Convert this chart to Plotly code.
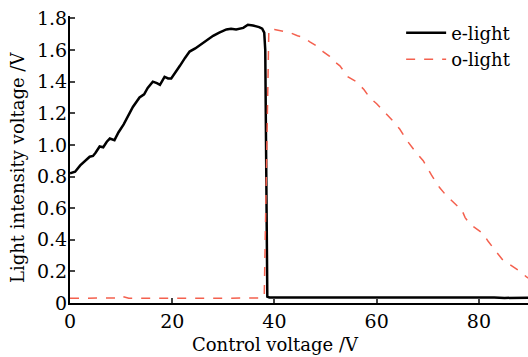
import plotly.graph_objects as go

# e-light (black solid)
e_x = [0, 1, 2, 3, 3.85, 4.5, 5, 5.8, 6.5, 7.2, 7.8, 8.7, 9.5, 10.5, 11.5, 12.3, 13.6, 14.5, 15.2,
       16.2, 17.0, 17.6, 18.5, 19.2, 19.8, 20.5, 21.5, 22.5, 23.4, 24.5, 25.4, 26.5, 28.0, 29.2,
       30.6, 31.5, 32.5, 33.9, 34.8, 35.8, 37.0, 37.6, 38.0, 38.2, 38.4, 38.6, 39,
       40, 42, 45, 48, 50, 53, 55, 58, 60, 63, 65, 68, 70, 73, 75, 78, 80, 83, 85, 88, 90]
e_y = [0.82, 0.83, 0.87, 0.90, 0.925, 0.93, 0.95, 0.99, 0.985, 1.02, 1.04, 1.03, 1.08, 1.13, 1.19,
       1.24, 1.30, 1.32, 1.36, 1.40, 1.39, 1.38, 1.43, 1.42, 1.42, 1.45, 1.50, 1.55, 1.59, 1.61,
       1.63, 1.66, 1.69, 1.71, 1.73, 1.735, 1.73, 1.74, 1.76, 1.755, 1.745, 1.735, 1.71, 1.6, 1.0,
       0.04, 0.035,
       0.035, 0.034, 0.036, 0.035, 0.038, 0.036, 0.034, 0.035, 0.035, 0.034, 0.036, 0.035, 0.034,
       0.035, 0.035, 0.034, 0.036, 0.034, 0.032, 0.034, 0.034]

# o-light (red dashed)
o_x = [0, 5, 9, 9.8, 10.5, 11.5, 15, 20, 25, 30, 35, 37.5, 38.0, 38.3, 38.6, 38.9, 40, 41.5, 43,
       44.5, 45.6, 47, 48.5, 49.5, 50.8, 52, 52.8, 54.4, 56, 57.5, 58.6, 60, 61.2, 62.3, 63.2,
       64.5, 66.1, 67.5, 69.1, 70.7, 72.3, 73.6, 75, 75.9, 76.5, 77.3, 78.2, 79.5, 80.8, 81.8,
       82.8, 83.7, 84.7, 85.7, 86.7, 88, 89.3, 90]
o_y = [0.03, 0.03, 0.032, 0.045, 0.04, 0.03, 0.03, 0.028, 0.03, 0.03, 0.03, 0.032, 0.04, 0.6, 1.3,
       1.73, 1.73, 1.72, 1.71, 1.69, 1.68, 1.65, 1.62, 1.59, 1.56, 1.52, 1.50, 1.43, 1.40, 1.35,
       1.30, 1.26, 1.22, 1.18, 1.15, 1.10, 1.02, 0.96, 0.90, 0.81, 0.73, 0.68, 0.64, 0.61, 0.60,
       0.54, 0.50, 0.47, 0.44, 0.39, 0.35, 0.31, 0.27, 0.25, 0.23, 0.20, 0.165, 0.15]

x_ticks = [0, 20, 40, 60, 80]
y_ticks = [0, 0.2, 0.4, 0.6, 0.8, 1.0, 1.2, 1.4, 1.6, 1.8]
y_labels = ["0", "0.2", "0.4", "0.6", "0.8", "1.0", "1.2", "1.4", "1.6", "1.8"]

FONT = "DejaVu Serif, Liberation Serif, serif"
TICK_FS = 19
TXT_FS = 18

fig = go.Figure()
fig.add_trace(go.Scatter(x=e_x, y=e_y, mode="lines", name="e-light",
                         line=dict(color="black", width=2.5)))
fig.add_trace(go.Scatter(x=o_x, y=o_y, mode="lines", name="o-light",
                         line=dict(color="#f4604e", width=1.5, dash="dash")))

L, R, T, B = 70, 0, 16, 54
fig.update_layout(
    width=528, height=357,
    margin=dict(l=L, r=R, t=T, b=B, autoexpand=False),
    paper_bgcolor="white", plot_bgcolor="white",
    font=dict(family=FONT, size=TICK_FS, color="black"),
    showlegend=True,
    legend=dict(x=0.723, y=1.005, xanchor="left", yanchor="top",
                bgcolor="rgba(0,0,0,0)", font=dict(family=FONT, size=TXT_FS, color="black"),
                tracegroupgap=0, itemwidth=40),
    xaxis=dict(range=[0, 89.6], tickvals=x_ticks, ticks="inside", ticklen=5, tickwidth=1.5,
               showline=True, linecolor="black", linewidth=2, showgrid=False, zeroline=False,
               tickfont=dict(family=FONT, size=TICK_FS, color="black")),
    yaxis=dict(range=[0, 1.815], tickvals=y_ticks, ticktext=y_labels, ticks="inside",
               ticklen=5, tickwidth=1.5, showline=True, linecolor="black", linewidth=2,
               showgrid=False, zeroline=False, ticklabelstandoff=-3,
               tickfont=dict(family=FONT, size=TICK_FS, color="black")),
)
pw, ph = 528 - L - R, 357 - T - B
def px_to_paper(px, py):
    return (px - L) / pw, 1 - (py - T) / ph

ax, ay = px_to_paper(275, 344)
bx, by = px_to_paper(17, 168)
fig.add_annotation(text="Control voltage /V", x=ax, y=ay, xref="paper", yref="paper",
                   xanchor="center", yanchor="middle", showarrow=False,
                   font=dict(family=FONT, size=TXT_FS, color="black"))
fig.add_annotation(text="Light intensity voltage /V", textangle=-90, x=bx, y=by,
                   xref="paper", yref="paper", xanchor="center", yanchor="middle",
                   showarrow=False, font=dict(family=FONT, size=TXT_FS, color="black"))

fig.write_html("out.html", config={"displayModeBar": False},
               post_script="document.body.style.margin='0';")
